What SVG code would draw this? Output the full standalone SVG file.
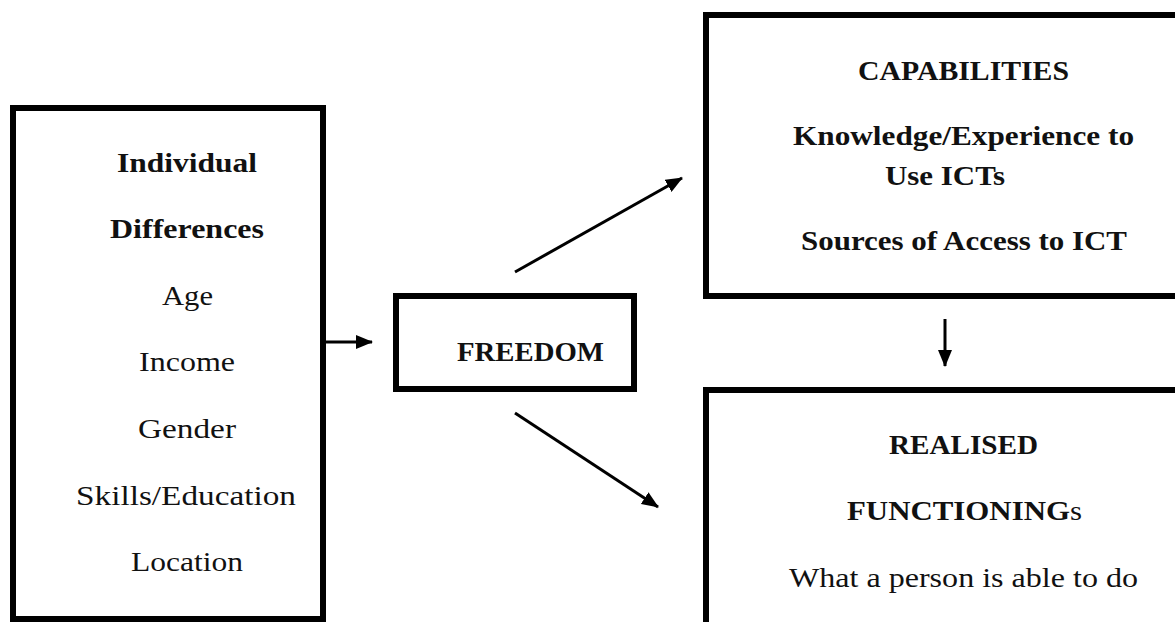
<svg xmlns="http://www.w3.org/2000/svg" width="1175" height="622" viewBox="0 0 1175 622">
<style>
.box{fill:#fff;stroke:#000;stroke-width:6}
.t{font-family:"Liberation Serif","Times New Roman",serif;fill:#111}
.b{font-weight:bold;font-size:28px}
.r{font-size:27px}
.c{stroke:#000;stroke-width:3;fill:none}
</style>
<defs>
<marker id="ah" markerUnits="userSpaceOnUse" markerWidth="18" markerHeight="14" refX="16" refY="7" orient="auto">
<path d="M0,0 L17,7 L0,14 Z" fill="#000"/>
</marker>
</defs>
<rect width="1175" height="622" fill="#fff"/>
<g id="individual">
<rect class="box" x="13" y="108" width="310" height="511"/>
<text class="t b" x="117" y="172" textLength="140" lengthAdjust="spacingAndGlyphs">Individual</text>
<text class="t b" x="110" y="238" textLength="154" lengthAdjust="spacingAndGlyphs">Differences</text>
<text class="t r" x="162" y="305" textLength="51" lengthAdjust="spacingAndGlyphs">Age</text>
<text class="t r" x="139" y="371" textLength="96" lengthAdjust="spacingAndGlyphs">Income</text>
<text class="t r" x="138" y="438" textLength="98" lengthAdjust="spacingAndGlyphs">Gender</text>
<text class="t r" x="76" y="505" textLength="220" lengthAdjust="spacingAndGlyphs">Skills/Education</text>
<text class="t r" x="131" y="571" textLength="112" lengthAdjust="spacingAndGlyphs">Location</text>
</g>
<g id="freedom">
<rect class="box" x="396" y="296" width="238" height="93"/>
<text class="t b" x="457" y="361" textLength="147" lengthAdjust="spacingAndGlyphs">FREEDOM</text>
</g>
<g id="capabilities">
<rect class="box" x="706" y="15" width="480" height="281"/>
<text class="t b" x="858" y="80" textLength="211" lengthAdjust="spacingAndGlyphs">CAPABILITIES</text>
<text class="t b" x="793" y="145" textLength="341" lengthAdjust="spacingAndGlyphs">Knowledge/Experience to</text>
<text class="t b" x="885" y="185" textLength="120" lengthAdjust="spacingAndGlyphs">Use ICTs</text>
<text class="t b" x="801" y="250" textLength="326" lengthAdjust="spacingAndGlyphs">Sources of Access to ICT</text>
</g>
<g id="functionings">
<rect class="box" x="706" y="390" width="480" height="250"/>
<text class="t b" x="889" y="454" textLength="149" lengthAdjust="spacingAndGlyphs">REALISED</text>
<text class="t b" x="847" y="520" textLength="235" lengthAdjust="spacingAndGlyphs">FUNCTIONING<tspan font-weight="normal">s</tspan></text>
<text class="t r" x="789" y="587" textLength="349" lengthAdjust="spacingAndGlyphs">What a person is able to do</text>
</g>
<g id="connectors">
<line class="c" x1="326" y1="342" x2="372" y2="342" marker-end="url(#ah)"/>
<line class="c" x1="515" y1="272" x2="682" y2="178" marker-end="url(#ah)"/>
<line class="c" x1="515" y1="413" x2="658" y2="507" marker-end="url(#ah)"/>
<line class="c" x1="945" y1="319" x2="945" y2="366" marker-end="url(#ah)"/>
</g>
</svg>
